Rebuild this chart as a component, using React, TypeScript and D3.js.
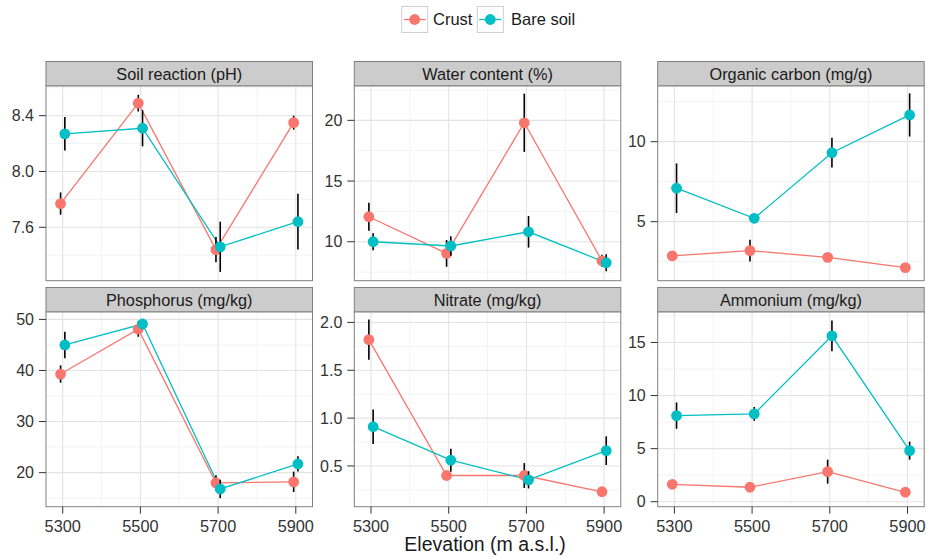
import React from "react";
import * as d3 from "d3";

// ---- data ----
const elevations = [5300, 5500, 5700, 5900];
const seriesNames = ["Crust", "Bare soil"];
const seriesColors = ["#F8766D", "#00BFC4"];

const panelTitles = [
  "Soil reaction (pH)",
  "Water content (%)",
  "Organic carbon (mg/g)",
  "Phosphorus (mg/kg)",
  "Nitrate (mg/kg)",
  "Ammonium (mg/kg)",
];

const phCrust = [7.77, 8.49, 7.44, 8.35];
const phCrustErr = [0.08, 0.06, 0.09, 0.05];
const phBare = [8.27, 8.31, 7.46, 7.64];
const phBareErr = [0.12, 0.13, 0.18, 0.2];

const waterCrust = [12.06, 9.04, 19.8, 8.43];
const waterCrustErr = [1.15, 1.1, 2.4, 0.5];
const waterBare = [10.0, 9.65, 10.82, 8.27];
const waterBareErr = [0.7, 0.8, 1.3, 0.7];

const carbonCrust = [2.86, 3.19, 2.77, 2.13];
const carbonCrustErr = [0.15, 0.68, 0.15, 0.15];
const carbonBare = [7.09, 5.21, 9.31, 11.67];
const carbonBareErr = [1.55, 0.3, 0.93, 1.35];

const phosCrust = [39.3, 48.1, 18.0, 18.2];
const phosCrustErr = [1.7, 1.5, 1.5, 2.0];
const phosBare = [45.0, 49.1, 16.8, 21.7];
const phosBareErr = [2.6, 1.0, 1.8, 1.5];

const nitrateCrust = [1.82, 0.4, 0.4, 0.23];
const nitrateCrustErr = [0.21, 0.03, 0.13, 0.03];
const nitrateBare = [0.91, 0.56, 0.355, 0.66];
const nitrateBareErr = [0.18, 0.12, 0.09, 0.15];

const ammCrust = [1.64, 1.36, 2.83, 0.89];
const ammCrustErr = [0.3, 0.3, 1.13, 0.3];
const ammBare = [8.11, 8.27, 15.63, 4.81];
const ammBareErr = [1.24, 0.65, 1.45, 0.85];

const yLimits = [
  [7.217, 8.613],
  [6.79, 22.83],
  [1.31, 13.48],
  [13.33, 51.45],
  [0.074, 2.109],
  [-0.47, 17.87],
];
const yTicks = [
  [7.6, 8.0, 8.4],
  [10, 15, 20],
  [5, 10],
  [20, 30, 40, 50],
  [0.5, 1.0, 1.5, 2.0],
  [0, 5, 10, 15],
];
const yMinorTicks = [
  [7.4, 7.8, 8.2, 8.6],
  [7.5, 12.5, 17.5, 22.5],
  [2.5, 7.5, 12.5],
  [15, 25, 35, 45],
  [0.25, 0.75, 1.25, 1.75],
  [2.5, 7.5, 12.5, 17.5],
];
const yDecimals = [1, 0, 0, 0, 1, 0];
const xMinorTicks = [5400, 5600, 5800];

const panelSeries = [
  [[phCrust, phCrustErr], [phBare, phBareErr]],
  [[waterCrust, waterCrustErr], [waterBare, waterBareErr]],
  [[carbonCrust, carbonCrustErr], [carbonBare, carbonBareErr]],
  [[phosCrust, phosCrustErr], [phosBare, phosBareErr]],
  [[nitrateCrust, nitrateCrustErr], [nitrateBare, nitrateBareErr]],
  [[ammCrust, ammCrustErr], [ammBare, ammBareErr]],
];

// ---- layout ----
const W = 931;
const H = 557;
const colLefts = [46, 354.3, 657.7];
const panelW = 266.5;
const rowStripTops = [61.5, 287.5];
const stripH = 24.5;
const plotH = 194.7;
const dodge = [-5.5, 5.5];
const FONT = "'Liberation Sans', Arial, Helvetica, sans-serif";

const xScale = d3.scaleLinear().domain([5257, 5943]).range([0, panelW]);

function Panel({ idx }: { idx: number }) {
  const col = idx % 3;
  const row = Math.floor(idx / 3);
  const left = colLefts[col];
  const stripTop = rowStripTops[row];
  const top = stripTop + stripH;
  const y = d3.scaleLinear().domain(yLimits[idx]).range([plotH, 0]);
  const [lo, hi] = yLimits[idx];
  const minors = yMinorTicks[idx].filter((v) => v >= lo && v <= hi);
  const line = d3
    .line<[number, number]>()
    .x((d) => d[0])
    .y((d) => d[1]);
  return (
    <g>
      {/* strip */}
      <rect
        x={left}
        y={stripTop}
        width={panelW}
        height={stripH}
        fill="#cccccc"
        stroke="#808080"
        strokeWidth={1}
      />
      <text
        x={left + panelW / 2}
        y={stripTop + stripH / 2}
        dy="0.36em"
        textAnchor="middle"
        fontSize={16.3}
        fill="#1a1a1a"
        fontFamily={FONT}
      >
        {panelTitles[idx]}
      </text>
      <g transform={`translate(${left},${top})`}>
        <rect x={0} y={0} width={panelW} height={plotH} fill="#ffffff" />
        {/* minor grid */}
        {minors.map((v) => (
          <line key={"ym" + v} x1={0} x2={panelW} y1={y(v)} y2={y(v)} stroke="#f3f3f3" strokeWidth={1} />
        ))}
        {xMinorTicks.map((v) => (
          <line key={"xm" + v} x1={xScale(v)} x2={xScale(v)} y1={0} y2={plotH} stroke="#f3f3f3" strokeWidth={1} />
        ))}
        {/* major grid */}
        {yTicks[idx].map((v) => (
          <line key={"yM" + v} x1={0} x2={panelW} y1={y(v)} y2={y(v)} stroke="#e3e3e3" strokeWidth={1.1} />
        ))}
        {elevations.map((v) => (
          <line key={"xM" + v} x1={xScale(v)} x2={xScale(v)} y1={0} y2={plotH} stroke="#e3e3e3" strokeWidth={1.1} />
        ))}
        {/* lines */}
        {panelSeries[idx].map(([vals], s) => (
          <path
            key={"l" + s}
            d={line(vals.map((v, i) => [xScale(elevations[i] + dodge[s]), y(v)]) as [number, number][]) || ""}
            fill="none"
            stroke={seriesColors[s]}
            strokeWidth={1.3}
          />
        ))}
        {/* error bars and points */}
        {panelSeries[idx].map(([vals, errs], s) => (
          <g key={"s" + s}>
            {vals.map((v, i) => (
              <line
                key={"e" + i}
                x1={xScale(elevations[i] + dodge[s])}
                x2={xScale(elevations[i] + dodge[s])}
                y1={y(v - errs[i])}
                y2={y(v + errs[i])}
                stroke="#000000"
                strokeWidth={1.6}
              />
            ))}
            {vals.map((v, i) => (
              <circle
                key={"p" + i}
                cx={xScale(elevations[i] + dodge[s])}
                cy={y(v)}
                r={5.4}
                fill={seriesColors[s]}
              />
            ))}
          </g>
        ))}
        {/* border */}
        <rect x={0} y={0} width={panelW} height={plotH} fill="none" stroke="#808080" strokeWidth={1} />
        {/* y axis */}
        {yTicks[idx].map((v) => (
          <g key={"yt" + v}>
            <line x1={-7} x2={0} y1={y(v)} y2={y(v)} stroke="#333333" strokeWidth={1} />
            <text
              x={-12}
              y={y(v)}
              dy="0.36em"
              textAnchor="end"
              fontSize={16}
              fill="#333333"
              fontFamily={FONT}
            >
              {v.toFixed(yDecimals[idx])}
            </text>
          </g>
        ))}
        {/* x axis only on bottom row */}
        {row === 1 &&
          elevations.map((v) => (
            <g key={"xt" + v}>
              <line x1={xScale(v)} x2={xScale(v)} y1={plotH} y2={plotH + 7} stroke="#333333" strokeWidth={1} />
              <text
                x={xScale(v)}
                y={plotH + 25}
                textAnchor="middle"
                fontSize={16.3}
                fill="#333333"
                fontFamily={FONT}
              >
                {v}
              </text>
            </g>
          ))}
      </g>
    </g>
  );
}

function Legend() {
  const keyW = 26;
  const keyH = 26;
  const keyY = 6.5;
  const items = [
    { x: 401.7, textX: 433 },
    { x: 477.3, textX: 511 },
  ];
  return (
    <g>
      {seriesNames.map((name, s) => (
        <g key={name}>
          <rect
            x={items[s].x}
            y={keyY}
            width={keyW}
            height={keyH}
            fill="#ffffff"
            stroke="#cfcfcf"
            strokeWidth={1}
          />
          <line
            x1={items[s].x + 2}
            x2={items[s].x + keyW - 2}
            y1={keyY + keyH / 2}
            y2={keyY + keyH / 2}
            stroke={seriesColors[s]}
            strokeWidth={1.3}
          />
          <circle cx={items[s].x + keyW / 2} cy={keyY + keyH / 2} r={5.4} fill={seriesColors[s]} />
          <text
            x={items[s].textX}
            y={keyY + keyH / 2}
            dy="0.36em"
            fontSize={16.5}
            fill="#1a1a1a"
            fontFamily={FONT}
          >
            {name}
          </text>
        </g>
      ))}
    </g>
  );
}

export default function App() {
  return (
    <svg
      width={W}
      height={H}
      viewBox={`0 0 ${W} ${H}`}
      style={{ position: "absolute", left: 0, top: 0, background: "#ffffff" }}
    >
      <rect x={0} y={0} width={W} height={H} fill="#ffffff" />
      <Legend />
      {panelTitles.map((_, i) => (
        <Panel key={i} idx={i} />
      ))}
      <text
        x={(colLefts[0] + colLefts[2] + panelW) / 2}
        y={551}
        textAnchor="middle"
        fontSize={19.5}
        fill="#1a1a1a"
        fontFamily={FONT}
      >
        Elevation (m a.s.l.)
      </text>
    </svg>
  );
}
